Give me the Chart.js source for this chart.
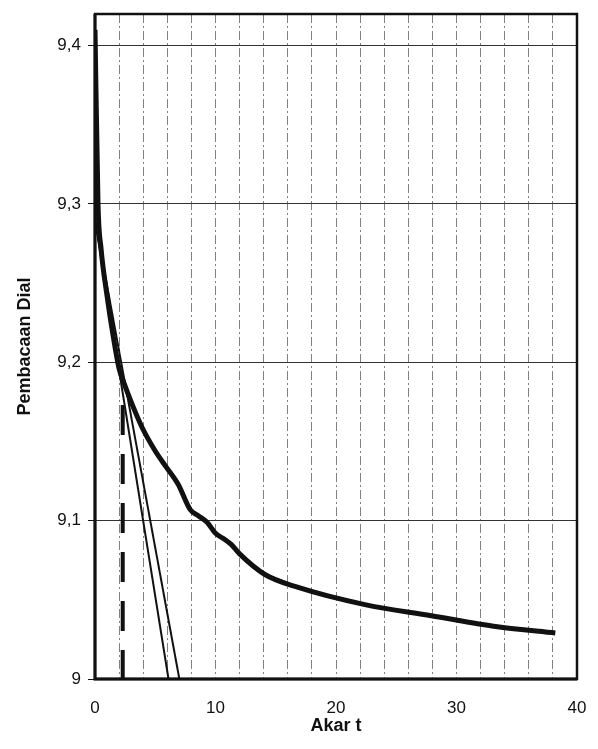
<!DOCTYPE html>
<html>
<head>
<meta charset="utf-8">
<style>
  html, body { margin: 0; padding: 0; background: #fff; }
  #wrap { width: 598px; height: 749px; position: relative; }
</style>
<script src="https://cdn.jsdelivr.net/npm/chart.js@4.4.0/dist/chart.umd.min.js"></script>
</head>
<body>
<div id="wrap"><canvas id="c"></canvas></div>
<script>
// Square root of time (Akar t) against dial reading (Pembacaan Dial)
const akarT = [0, 0.25, 0.5, 1, 1.5, 2, 2.4, 3, 3.9, 5, 5.9, 6.9, 7.9, 8.6, 9.3, 10, 10.8, 11.3, 12, 14.1, 16.8, 22.4, 27.9, 33.4, 38.2];
const pembacaanDial = [9.41, 9.30, 9.272, 9.242, 9.217, 9.196, 9.187, 9.175, 9.159, 9.144, 9.134, 9.123, 9.107, 9.103, 9.099, 9.092, 9.088, 9.085, 9.079, 9.066, 9.058, 9.047, 9.040, 9.033, 9.029];

// Initial straight portion and the line with abscissae multiplied by 1.15
const garisAwalX = [0, 6.1];
const garis115X = [0, 7.0];
const garisY = [9.29, 9.0];

// Vertical marker at the intersection with the curve
const penandaX = [2.3, 2.3];
const penandaY = [9.173, 9.0];

// Axis ticks
const xTickLabels = [0, 10, 20, 30, 40];
const yTickValues = [9, 9.1, 9.2, 9.3, 9.4];

const pts = (xs, ys) => xs.map((x, i) => ({ x: x, y: ys[i] }));
const FONT = "'Liberation Sans', Arial, sans-serif";

const framePlugin = {
  id: 'frame',
  beforeDraw(chart) {
    const c = chart.ctx;
    c.save();
    c.fillStyle = '#fff';
    c.fillRect(0, 0, chart.width, chart.height);
    c.restore();
  },
  afterDatasetsDraw(chart) {
    const { left, top, right, bottom } = chart.chartArea;
    const c = chart.ctx;
    c.save();
    c.strokeStyle = '#111';
    c.lineWidth = 2.5;
    c.strokeRect(left, top, right - left, bottom - top);
    c.lineWidth = 3;
    c.beginPath();
    c.moveTo(left, top);
    c.lineTo(left, bottom);
    c.lineTo(right, bottom);
    c.stroke();
    c.restore();
  }
};

new Chart(document.getElementById('c'), {
  type: 'line',
  data: {
    datasets: [
      {
        data: pts(akarT, pembacaanDial),
        borderColor: '#111',
        borderWidth: 5,
        cubicInterpolationMode: 'monotone',
        pointRadius: 0
      },
      {
        data: pts(garisAwalX, garisY),
        borderColor: '#111',
        borderWidth: 2,
        pointRadius: 0
      },
      {
        data: pts(garis115X, garisY),
        borderColor: '#111',
        borderWidth: 2,
        pointRadius: 0
      },
      {
        data: pts(penandaX, penandaY),
        borderColor: '#111',
        borderWidth: 4,
        borderDash: [30, 19],
        pointRadius: 0
      }
    ]
  },
  options: {
    responsive: true,
    maintainAspectRatio: false,
    animation: false,
    layout: { padding: { top: 14, right: 21, bottom: 0, left: 0 } },
    plugins: { legend: { display: false }, tooltip: { enabled: false } },
    scales: {
      x: {
        type: 'linear',
        min: 0,
        max: 40,
        afterFit(s) {
          s.height = 70;
          s.paddingLeft = 0;
          s.paddingRight = 0;
        },
        ticks: {
          stepSize: 2,
          autoSkip: false,
          maxRotation: 0,
          padding: 19,
          color: '#111',
          font: { family: FONT, size: 17 },
          callback: v => (xTickLabels.includes(v) ? String(v) : '')
        },
        grid: { color: 'rgba(45,45,45,0.6)', lineWidth: 1, drawTicks: false },
        border: { display: false, dash: [9, 3, 2, 3] },
        title: {
          display: true,
          text: 'Akar t',
          color: '#111',
          font: { family: FONT, size: 18, weight: 'bold' },
          padding: { top: 0, bottom: 12 }
        }
      },
      y: {
        type: 'linear',
        min: 9,
        max: 9.42,
        afterFit(s) {
          s.width = 95;
          s.paddingTop = 0;
          s.paddingBottom = 0;
        },
        afterBuildTicks(s) {
          s.ticks = yTickValues.map(v => ({ value: v }));
        },
        ticks: {
          stepSize: 0.1,
          padding: 7,
          color: '#111',
          font: { family: FONT, size: 17 },
          callback: v => (v === 9 ? '9' : v.toFixed(1).replace('.', ','))
        },
        grid: { color: '#333', lineWidth: 1, tickLength: 7, tickColor: '#111' },
        border: { display: false },
        title: {
          display: true,
          text: 'Pembacaan Dial',
          color: '#111',
          font: { family: FONT, size: 18, weight: 'bold' },
          padding: { top: 14, bottom: 0 }
        }
      }
    }
  },
  plugins: [framePlugin]
});
</script>
</body>
</html>
